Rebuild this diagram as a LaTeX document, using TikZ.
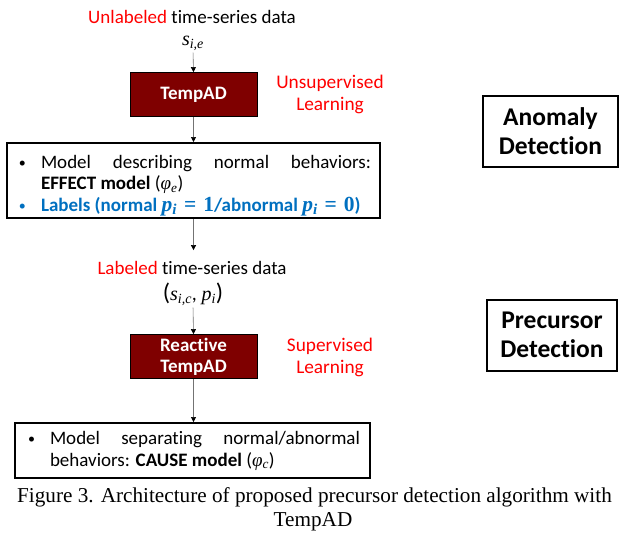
\documentclass[tikz,border=0pt]{standalone}
\usepackage{graphicx}
\usepackage{fontspec}
\setmainfont{Carlito}[Ligatures=NoCommon]
\newfontfamily\capfamily{Liberation Serif}
\usetikzlibrary{arrows.meta}
\definecolor{boxred}{RGB}{127,0,0}
\definecolor{adred}{RGB}{255,0,0}
\definecolor{adblue}{RGB}{0,112,192}
\newcommand\mvar[1]{{\capfamily\itshape #1}}
\newcommand\msb[2]{\mvar{#1}\textsubscript{\mvar{#2}}}
\newcommand\bmsb[2]{{\capfamily\fontsize{21.5}{22}\selectfont\bfseries\itshape #1\textsubscript{#2}}}
\newcommand\bmeq[1]{{\capfamily\fontsize{21.5}{22}\selectfont\bfseries\hspace*{7pt}=\hspace*{7pt}#1}}
\newcommand\bul{\hspace{3pt}\raisebox{1pt}{\fontsize{14}{14}\selectfont•}}
\tikzset{
  lab/.style={font=\fontsize{19}{22}\selectfont, inner sep=0pt, align=center},
  redlab/.style={lab, text=adred, font=\fontsize{19.3}{22}\selectfont},
  redbox/.style={draw=black, line width=0.8pt, fill=boxred, text=white,
    font=\fontsize{19}{21}\selectfont\bfseries, minimum width=127pt,
    minimum height=44pt, align=center, inner sep=0pt},
  blkbox/.style={draw=black, line width=2pt, inner sep=0pt},
  sidebox/.style={blkbox, font=\fontsize{25.5}{28.5}\selectfont\bfseries, align=center, minimum height=71pt},
  conn/.style={draw=black!55, line width=0.6pt, -{Triangle[black,length=5pt,width=5pt]}},
  caplab/.style={font=\capfamily\fontsize{21.2}{25}\selectfont, inner sep=0pt}
}
\begin{document}
\begin{tikzpicture}[x=1pt,y=-1pt]
\useasboundingbox (0,0) rectangle (619,536);
\fill[white] (0,0) rectangle (619,536);

\node[lab] (t1) at (192,17) {\textcolor{adred}{Unlabeled} time-series data};
\node[lab, font=\fontsize{20}{22}\selectfont] (s1) at (193,43) {\msb{s}{i,e}};
\node[redbox] (tempad) at (193.5,94.5) {TempAD};
\node[redlab] (unsup) at (330,94) {Unsupervised\\Learning};

\node[blkbox, minimum width=373pt, minimum height=75pt] (effect) at (193.5,180.5) {%
\begin{minipage}[c][71pt][t]{355pt}
\vspace*{10pt}
\fontsize{19}{21.5}\selectfont
\hangindent=25pt\hangafter=1\noindent\makebox[25pt][l]{\bul}Model describing normal behaviors:\linebreak
\textbf{EFFECT model} (\msb{φ}{e})\par
\noindent\makebox[25pt][l]{\textcolor{adblue}{\bul}}\textcolor{adblue}{\bfseries Labels (normal \bmsb{p}{i}\bmeq{1}/abnormal \bmsb{p}{i}\bmeq{0})}
\end{minipage}};

\node[lab] (t2) at (192,268) {\textcolor{adred}{Labeled} time-series data};
\node[lab, font=\fontsize{20}{22}\selectfont] (s2) at (193,294) {{\fontsize{24}{24}\selectfont(}\msb{s}{i,c}, \msb{p}{i}{\fontsize{24}{24}\selectfont)}};
\node[redbox] (react) at (193.5,356.5) {Reactive\\TempAD};
\node[redlab] (sup) at (330,357) {Supervised\\Learning};

\node[blkbox, minimum width=355pt, minimum height=55pt] (cause) at (192.5,450.5) {%
\raisebox{-1pt}{\begin{minipage}{335pt}
\fontsize{19}{22}\selectfont
\hangindent=25pt\hangafter=1\noindent\makebox[25pt][l]{\bul}Model separating normal/abnormal\linebreak
behaviors: \textbf{CAUSE model} (\msb{φ}{c})
\end{minipage}}};

\node[sidebox, minimum width=135pt] (anom) at (550.5,131) {Anomaly\\Detection};
\node[sidebox, minimum width=130pt] (prec) at (552,335) {Precursor\\Detection};

\node[caplab] (cap1) at (314.5,497) {Figure 3. Architecture of proposed precursor detection algorithm with};
\node[caplab] (cap2) at (313,522) {TempAD};

\draw[conn, shorten <=2pt] (s1.south) -- (tempad.north);
\draw[conn] (tempad.south) -- (effect.north -| tempad.south);
\draw[conn, shorten >=11pt] (effect.south -| tempad.south) -- (t2.north -| tempad.south);
\draw[conn, shorten <=2pt] (s2.south) -- (react.north);
\draw[conn] (react.south) -- (react.south |- cause.north);
\end{tikzpicture}
\end{document}
